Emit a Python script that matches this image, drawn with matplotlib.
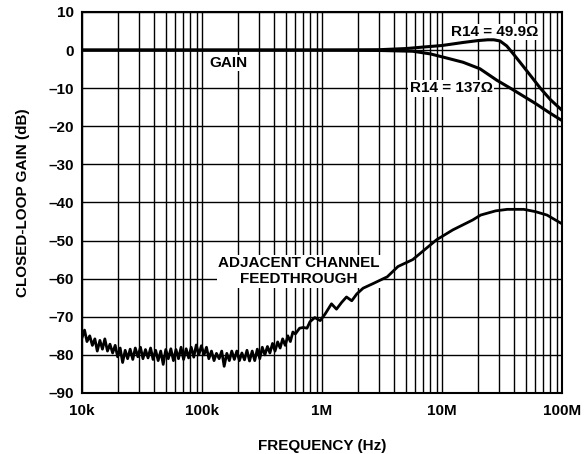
import matplotlib
matplotlib.use("Agg")
import matplotlib.pyplot as plt
import numpy as np
from matplotlib.ticker import FixedLocator, LogLocator, NullFormatter

plt.rcParams["font.family"] = ["Liberation Sans", "DejaVu Sans"]
plt.rcParams["font.weight"] = "bold"
plt.rcParams["axes.labelweight"] = "bold"

# gain curves (Hz, dB)
GAIN_FREQ_49 = [1e4, 1e5, 1e6, 3e6, 5e6, 7e6, 10e6, 15e6, 20e6, 24e6, 27e6, 30.4e6,
                34.6e6, 39.3e6, 44.7e6, 55e6, 66e6, 80e6, 100e6]
GAIN_DB_49 = [0.0, 0.0, 0.0, 0.1, 0.4, 0.8, 1.2, 2.0, 2.5, 2.7, 2.7, 2.4,
              1.1, -1.0, -3.2, -6.8, -10.0, -13.0, -15.8]

GAIN_FREQ_137 = [1e4, 1e5, 1e6, 3e6, 5.7e6, 8e6, 11e6, 15e6, 20.7e6, 28.6e6, 39e6,
                 60e6, 80e6, 100e6]
GAIN_DB_137 = [0.0, 0.0, 0.0, -0.1, -0.3, -1.0, -2.1, -3.2, -4.9, -7.9, -10.4,
               -14.0, -16.6, -18.5]

# adjacent channel feedthrough (kHz, dB)
FT_FREQ_KHZ = [10, 10.5, 11, 11.6, 12.2, 12.8, 13.4, 14.1, 14.8, 15.5, 16.3, 17.1,
               18, 18.9, 19.8, 20.8, 21.8, 22.9, 24, 25.2, 26.5, 27.8, 29.2, 30.7,
               32.2, 33.8, 35.5, 37.3, 39.1, 41.1, 43.1, 45.3, 47.5, 49.9, 52.4, 55,
               57.8, 60.7, 63.7, 66.9, 70.2, 73.8, 77.4, 81.3, 85.4, 89.6, 94.1, 98.8,
               104, 109, 114, 120, 126, 132, 139, 146, 153, 161, 169, 177, 186, 195,
               205, 215, 226, 237, 249, 262, 275, 289, 303, 318, 334, 351, 368, 387,
               406, 427, 448, 470, 494, 519, 545, 572, 600, 650, 700, 750, 794, 871,
               966, 1060, 1200, 1320, 1460, 1600, 1770, 1950, 2200, 2700, 3500, 4300,
               5700, 9000, 12300, 18000, 21000, 28000, 35000, 48000, 60000, 75000,
               100000]
FT_DB = [-75.5, -73.5, -76.5, -75.0, -77.5, -75.8, -79.0, -76.2, -78.5, -75.8, -79.0,
         -77.2, -79.5, -77.5, -80.5, -78.2, -82.0, -78.8, -81.0, -78.5, -81.2, -78.2,
         -80.5, -78.0, -81.0, -78.6, -80.8, -78.2, -81.2, -78.8, -81.5, -79.0, -82.5,
         -78.6, -81.0, -78.4, -81.5, -78.6, -81.0, -78.0, -81.2, -78.4, -80.8, -78.0,
         -80.6, -77.4, -80.0, -77.6, -80.0, -78.0, -81.0, -79.0, -81.5, -79.6, -81.0,
         -79.0, -83.0, -79.6, -81.5, -79.0, -81.2, -79.0, -81.5, -79.5, -81.3, -78.8,
         -81.6, -79.0, -81.5, -78.5, -81.0, -78.0, -80.0, -77.8, -79.5, -77.0, -79.0,
         -76.6, -78.2, -75.8, -77.5, -75.0, -76.5, -74.0, -74.5, -73.0, -72.8, -73.0,
         -71.3, -70.2, -71.0, -69.3, -66.6, -68.0, -66.2, -64.8, -65.8, -64.0, -62.5,
         -61.2, -59.5, -56.8, -55.0, -49.8, -47.2, -44.6, -43.3, -42.2, -41.8, -41.8,
         -42.4, -43.3, -45.6]

Y_TICKS = [10, 0, -10, -20, -30, -40, -50, -60, -70, -80, -90]
X_TICKS = [1e4, 1e5, 1e6, 1e7, 1e8]
X_LABELS = ["10k", "100k", "1M", "10M", "100M"]

FONT_SIZE = 11

fig = plt.figure(figsize=(5.87, 4.54), dpi=100)
ax = fig.add_axes([0.1397, 0.1344, 0.8177, 0.8392])

ax.set_xscale("log")
ax.set_xlim(1e4, 1e8)
ax.set_ylim(-90, 10)

ax.xaxis.set_major_locator(FixedLocator(X_TICKS))
ax.xaxis.set_minor_locator(LogLocator(base=10, subs=np.arange(2, 10)))
ax.xaxis.set_minor_formatter(NullFormatter())
ax.set_xticks(X_TICKS)
ax.set_xticklabels(X_LABELS)
ax.set_yticks(Y_TICKS)
ax.set_yticklabels([str(v).replace("-", "\u2013") for v in Y_TICKS])

ax.grid(True, which="major", color="black", linewidth=1.0)
ax.grid(True, which="minor", axis="x", color="black", linewidth=1.0)
ax.tick_params(which="both", length=0, labelsize=FONT_SIZE)
ax.tick_params(axis="x", pad=8)
ax.tick_params(axis="y", pad=6)
for side in ax.spines.values():
    side.set_linewidth(1.5)

ax.plot(GAIN_FREQ_49, GAIN_DB_49, color="black", linewidth=2.2, zorder=3)
ax.plot(GAIN_FREQ_137, GAIN_DB_137, color="black", linewidth=2.2, zorder=3)
ax.plot(np.array(FT_FREQ_KHZ) * 1e3, FT_DB, color="black", linewidth=2.0, zorder=3)

# white-boxed labels sit over the grid but under the curves
box = dict(facecolor="white", edgecolor="none", pad=1.0)
ax.text(1.65e5, -3.4, "GAIN", ha="center", va="center", fontsize=FONT_SIZE, bbox=box, zorder=2.5)
ax.text(2.75e7, 4.75, "R14 = 49.9\u03a9", ha="center", va="center", fontsize=FONT_SIZE,
        bbox=box, zorder=2.5)
ax.text(1.19e7, -10.0, "R14 = 137\u03a9", ha="center", va="center", fontsize=FONT_SIZE,
        bbox=box, zorder=2.5)
ax.text(6.4e5, -58.0, "ADJACENT CHANNEL\nFEEDTHROUGH", ha="center", va="center",
        fontsize=FONT_SIZE, linespacing=1.2, bbox=box, zorder=2.5)

ax.set_xlabel("FREQUENCY (Hz)", fontsize=FONT_SIZE, labelpad=15)
ax.set_ylabel("CLOSED-LOOP GAIN (dB)", fontsize=FONT_SIZE, labelpad=13)

fig.savefig("out.png", dpi=100)
